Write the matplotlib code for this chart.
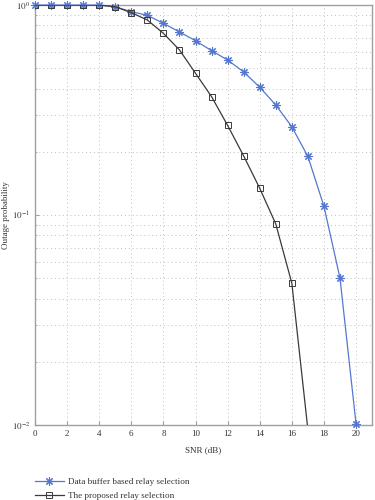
import matplotlib
matplotlib.use("Agg")
import matplotlib.pyplot as plt
from matplotlib.ticker import LogLocator, NullFormatter, FixedLocator

plt.rcParams['font.family'] = ['Liberation Serif', 'DejaVu Serif']
plt.rcParams['mathtext.fontset'] = 'stix'

snr = list(range(0, 21))
buffer_based = [1.0, 1.0, 1.0, 1.0, 1.0, 0.98, 0.93, 0.893, 0.818, 0.744, 0.676,
                0.606, 0.547, 0.480, 0.406, 0.334, 0.263, 0.19, 0.110, 0.050, 0.0101]
snr_prop = list(range(0, 18))
proposed = [1.0, 1.0, 1.0, 1.0, 1.0, 0.98, 0.92, 0.848, 0.733, 0.611, 0.473,
            0.366, 0.267, 0.191, 0.134, 0.0906, 0.0473, 0.0095]
xticks = list(range(0, 21, 2))
label_a = "Data buffer based relay selection"
label_b = "The proposed relay selection"

fig = plt.figure(figsize=(3.75, 5), dpi=100)
ax = fig.add_axes([0.0933, 0.15, 0.899, 0.84])

blue = '#5577d0'
ax.plot(snr, buffer_based, color=blue, lw=0.9, marker=(8, 2, 0), ms=6,
        mfc=blue, mec=blue, mew=0.8, label=label_a, clip_on=False, zorder=3)
ax.plot(snr_prop, proposed, color='#3a3a3a', lw=0.9, marker='s', ms=4,
        mfc='none', mec='#3a3a3a', mew=0.7, label=label_b, zorder=3)

ax.set_yscale('log')
ax.set_ylim(0.01, 1)
ax.set_xlim(0, 21)
ax.set_xticks(xticks)
ax.yaxis.set_major_locator(FixedLocator([0.01, 0.1, 1]))
ax.yaxis.set_minor_locator(LogLocator(base=10, subs=range(2, 10)))
ax.yaxis.set_minor_formatter(NullFormatter())
ax.set_yticklabels([r'$10^{-2}$', r'$10^{-1}$', r'$10^{0}$'])

ax.grid(True, which='major', color='#c0c0c0', ls=(0, (1, 3)), lw=0.7)
ax.grid(True, which='minor', axis='y', color='#c0c0c0', ls=(0, (1, 3)), lw=0.7)

for s in ax.spines.values():
    s.set_color('#a0a0a0')
    s.set_linewidth(1.0)
ax.tick_params(which='both', direction='in', colors='#a0a0a0', labelcolor='#333333',
               labelsize=6.5, length=3)
ax.tick_params(which='minor', length=1.5)

ax.set_xlabel('SNR (dB)', fontsize=6.5, color='#333333', labelpad=6)
ax.set_ylabel('Outage probability', fontsize=6.5, color='#333333')
ax.yaxis.set_label_coords(-0.075, 0.5)

fig.legend(loc='upper left', bbox_to_anchor=(0.08, 0.053), frameon=False,
           fontsize=6.6, handlelength=3.2, handletextpad=0.4, labelspacing=0.55,
           borderpad=0, labelcolor='#333333')

fig.savefig('out.png', dpi=100)
